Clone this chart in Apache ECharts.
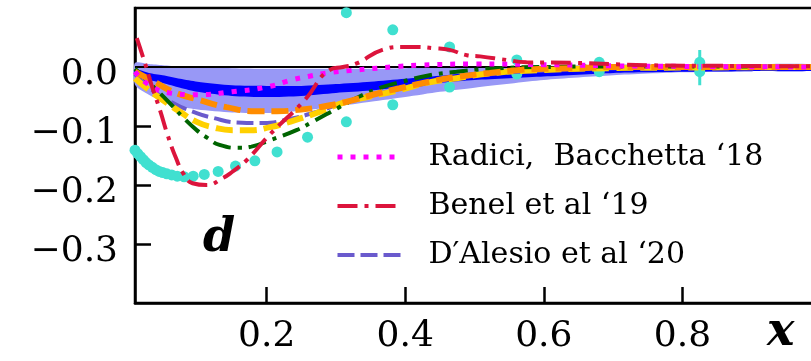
<!DOCTYPE html>
<html><head><meta charset="utf-8">
<script src="https://cdn.jsdelivr.net/npm/echarts@6/dist/echarts.min.js"></script>
<style>html,body{margin:0;padding:0;background:#fff}#c{width:811px;height:361px}</style>
</head><body><div id="c"></div>
<script>
// ---- data ----
const bandX      = [0.01,0.03,0.05,0.075,0.1,0.15,0.2,0.25,0.3,0.35,0.4,0.45,0.5,0.6,0.7,0.8,0.9,1.0];
const lightUpper = [0.007,0.005,0.003,0.001,0.0,-0.002,-0.003,-0.003,-0.003,-0.003,-0.002,-0.001,0.0,0.002,0.004,0.005,0.005,0.004];
const lightLower = [-0.03,-0.047,-0.058,-0.067,-0.072,-0.077,-0.078,-0.074,-0.067,-0.059,-0.051,-0.042,-0.035,-0.022,-0.014,-0.009,-0.007,-0.006];
const darkUpper  = [-0.004,-0.01,-0.014,-0.02,-0.025,-0.031,-0.032,-0.032,-0.029,-0.025,-0.02,-0.015,-0.009,-0.003,0.002,0.004,0.004,0.004];
const darkLower  = [-0.016,-0.022,-0.027,-0.035,-0.042,-0.049,-0.051,-0.049,-0.044,-0.04,-0.034,-0.027,-0.022,-0.016,-0.01,-0.008,-0.007,-0.006];

const radiciX = [0.01,0.03,0.06,0.1,0.15,0.2,0.236,0.26,0.288,0.32,0.36,0.38,0.42,0.5,0.6,0.7,0.8,1.0];
const radiciY = [-0.008,-0.03,-0.044,-0.047,-0.042,-0.034,-0.022,-0.016,-0.01,-0.006,-0.002,0.0,0.003,0.005,0.004,0.002,0.001,0.0];

const benelX = [0.0126,0.024,0.034,0.046,0.057,0.069,0.08,0.093,0.113,0.137,0.15,0.171,0.205,0.255,0.291,0.31,0.33,0.367,0.396,0.416,0.44,0.464,0.489,0.508,0.546,0.575,0.647,0.695,0.75,0.85,1.0];
const benelY = [0.049,0.008,-0.031,-0.073,-0.115,-0.154,-0.181,-0.197,-0.2,-0.188,-0.178,-0.158,-0.114,-0.056,-0.005,0.0,0.006,0.029,0.034,0.034,0.032,0.029,0.02,0.018,0.012,0.008,0.007,0.005,0.003,0.002,0.001];

const alesioX = [0.01,0.03,0.065,0.099,0.122,0.157,0.195,0.23,0.272,0.325,0.38,0.43,0.5,0.6,0.7,0.8,1.0];
const alesioY = [-0.012,-0.035,-0.061,-0.078,-0.086,-0.094,-0.095,-0.089,-0.076,-0.055,-0.04,-0.028,-0.015,-0.006,-0.002,-0.001,0.0];

const goldX = [0.01,0.027,0.05,0.075,0.099,0.122,0.151,0.176,0.205,0.233,0.272,0.31,0.349,0.392,0.431,0.474,0.52,0.6,0.7,0.8,1.0];
const goldY = [-0.019,-0.036,-0.056,-0.076,-0.093,-0.102,-0.107,-0.107,-0.102,-0.093,-0.078,-0.061,-0.05,-0.039,-0.027,-0.019,-0.011,-0.005,-0.002,-0.001,0.0];

const greenX = [0.01,0.031,0.06,0.079,0.099,0.113,0.132,0.161,0.178,0.205,0.243,0.266,0.305,0.334,0.367,0.395,0.435,0.474,0.52,0.6,0.7,0.8,1.0];
const greenY = [-0.003,-0.027,-0.061,-0.085,-0.107,-0.119,-0.132,-0.137,-0.135,-0.124,-0.107,-0.093,-0.068,-0.05,-0.034,-0.025,-0.014,-0.008,-0.003,0.0,0.001,0.001,0.0];

const orangeX = [0.01,0.041,0.065,0.103,0.142,0.185,0.215,0.25,0.277,0.315,0.353,0.392,0.435,0.474,0.522,0.565,0.6,0.65,0.7,0.8,1.0];
const orangeY = [-0.008,-0.027,-0.042,-0.056,-0.068,-0.075,-0.075,-0.072,-0.068,-0.059,-0.047,-0.036,-0.025,-0.017,-0.01,-0.005,-0.003,-0.002,0.0,0.0,0.0];

const boundX  = [0.01,0.014,0.018,0.022,0.026,0.03,0.035,0.04,0.045,0.05,0.056,0.063,0.071,0.081,0.094,0.11,0.13,0.155,0.183,0.215,0.259,0.315,0.382,0.464,0.561,0.68,0.825];
const boundLo = [-0.141,-0.147,-0.152,-0.157,-0.162,-0.166,-0.17,-0.174,-0.177,-0.179,-0.181,-0.183,-0.185,-0.186,-0.185,-0.182,-0.177,-0.168,-0.159,-0.144,-0.119,-0.093,-0.064,-0.034,-0.012,-0.008,-0.008];
const boundUpX = [0.315,0.382,0.464,0.561,0.68,0.825];
const boundUp  = [0.092,0.063,0.034,0.012,0.008,0.008];
const errBars  = [[0.825,-0.031,0.029]];   // [x, low, high]

const xTicks = [0.2,0.4,0.6,0.8,1.0];
const xLabels = [0.2,0.4,0.6,0.8];
const yTicks = [-0.3,-0.2,-0.1,0.0];

const names = ['Radici,  Bacchetta \u201818','Benel et al \u201819','D\u2032Alesio et al \u201820'];

// ---- helpers ----
const pairs = (xs, ys) => xs.map((x, i) => [x, ys[i]]);
const SERIF = 'DejaVu Serif';

function bandSeries(name, lower, upper, color) {
  return {type:'custom', name:name, silent:true, data:pairs(bandX, lower), encode:{x:0, y:1},
    renderItem:function(params, api){
      if (params.dataIndex !== 0) return null;
      const pts = [];
      for (let i = 0; i < bandX.length; i++) pts.push(api.coord([bandX[i], upper[i]]));
      for (let i = bandX.length - 1; i >= 0; i--) pts.push(api.coord([bandX[i], lower[i]]));
      return {type:'polygon', shape:{points:pts, smooth:0.25}, style:{fill:color}, silent:true};
    }};
}
const styles = {};
function curve(name, xs, ys, color, width, dash) {
  styles[name] = {color:color, width:width, type:dash, cap:'butt'};
  return {type:'line', name:name, data:pairs(xs, ys), symbol:'none', smooth:true, silent:true,
    lineStyle:{color:color, width:width, type:dash, cap:'butt'}, itemStyle:{color:color}};
}

const errData = [];
errBars.forEach(b => { errData.push([b[0], b[1]], [b[0], b[2]], [b[0], '-']); });

const series = [
  bandSeries('light', lightLower, lightUpper, '#9898f6'),
  bandSeries('dark', darkLower, darkUpper, '#0000ff'),
  {type:'line', name:'zero', data:[[0.01,0],[1.0,0]], symbol:'none', silent:true,
   lineStyle:{color:'#000', width:2}},
  curve(names[2], alesioX, alesioY, '#6a5acd', 4, [17, 6]),
  curve('gold', goldX, goldY, '#ffd000', 6, [17, 7]),
  curve('green', greenX, greenY, '#006400', 4, [18, 7, 4, 7]),
  curve('orange', orangeX, orangeY, '#ff8c00', 6, [17, 7]),
  curve(names[0], radiciX, radiciY, '#ff00ff', 5, [5, 8]),
  curve(names[1], benelX, benelY, '#dc143c', 4, [20, 7, 4, 7]),
  {type:'line', name:'err', data:errData, symbol:'none', silent:true, connectNulls:false,
   lineStyle:{color:'#40e0d0', width:3}},
  {type:'scatter', name:'bound', data:pairs(boundX, boundLo), symbolSize:11, silent:true,
   itemStyle:{color:'#40e0d0', opacity:1}},
  {type:'scatter', name:'boundUp', data:pairs(boundUpX, boundUp), symbolSize:11, silent:true,
   itemStyle:{color:'#40e0d0', opacity:1}}
];

const chart = echarts.init(document.getElementById('c'), null, {renderer:'canvas'});
chart.setOption({
  animation:false,
  backgroundColor:'#fff',
  grid:{left:135, right:-10, top:8, bottom:58, show:true, borderColor:'#000', borderWidth:2.5,
    backgroundColor:'transparent', containLabel:false, outerBoundsMode:'none'},
  xAxis:{type:'value', min:0.01, max:1.0, position:'bottom',
    axisLine:{show:true, onZero:false, lineStyle:{color:'#000', width:2.5}},
    axisTick:{show:true, inside:true, length:16, lineStyle:{color:'#000', width:2.5}, customValues:xTicks},
    axisLabel:{show:true, customValues:xLabels, margin:16, color:'#000', fontFamily:SERIF, fontSize:36,
      formatter:v => v.toFixed(1)},
    splitLine:{show:false}},
  yAxis:{type:'value', min:-0.4, max:0.1, interval:0.1, position:'left',
    axisLine:{show:true, onZero:false, lineStyle:{color:'#000', width:2.5}},
    axisTick:{show:true, inside:true, length:16, lineStyle:{color:'#000', width:2.5}, customValues:yTicks},
    axisLabel:{show:true, customValues:yTicks, margin:17, color:'#000', fontFamily:SERIF, fontSize:36,
      verticalAlign:'top', lineHeight:16,
      formatter:v => (v < -1e-9 ? '\u2212' : '') + Math.abs(v).toFixed(1)},
    splitLine:{show:false}},
  legend:{
    data:names.map(n => ({name:n, itemStyle:{opacity:0}, lineStyle:styles[n]})),
    orient:'vertical', left:330, top:137, itemWidth:65, itemHeight:14, itemGap:19,
    selectedMode:false,
    textStyle:{fontFamily:SERIF, fontSize:30, color:'#000', lineHeight:30, padding:[0,0,0,21]}},
  graphic:[
    {type:'text', left:203, top:216, silent:true,
     style:{text:'d', fontFamily:SERIF, fontSize:46, fontWeight:'bold', fontStyle:'italic', fill:'#000'}},
    {type:'text', left:767, top:310, silent:true,
     style:{text:'x', fontFamily:SERIF, fontSize:46, fontWeight:'bold', fontStyle:'italic', fill:'#000'}}
  ],
  series:series
});
</script></body></html>
